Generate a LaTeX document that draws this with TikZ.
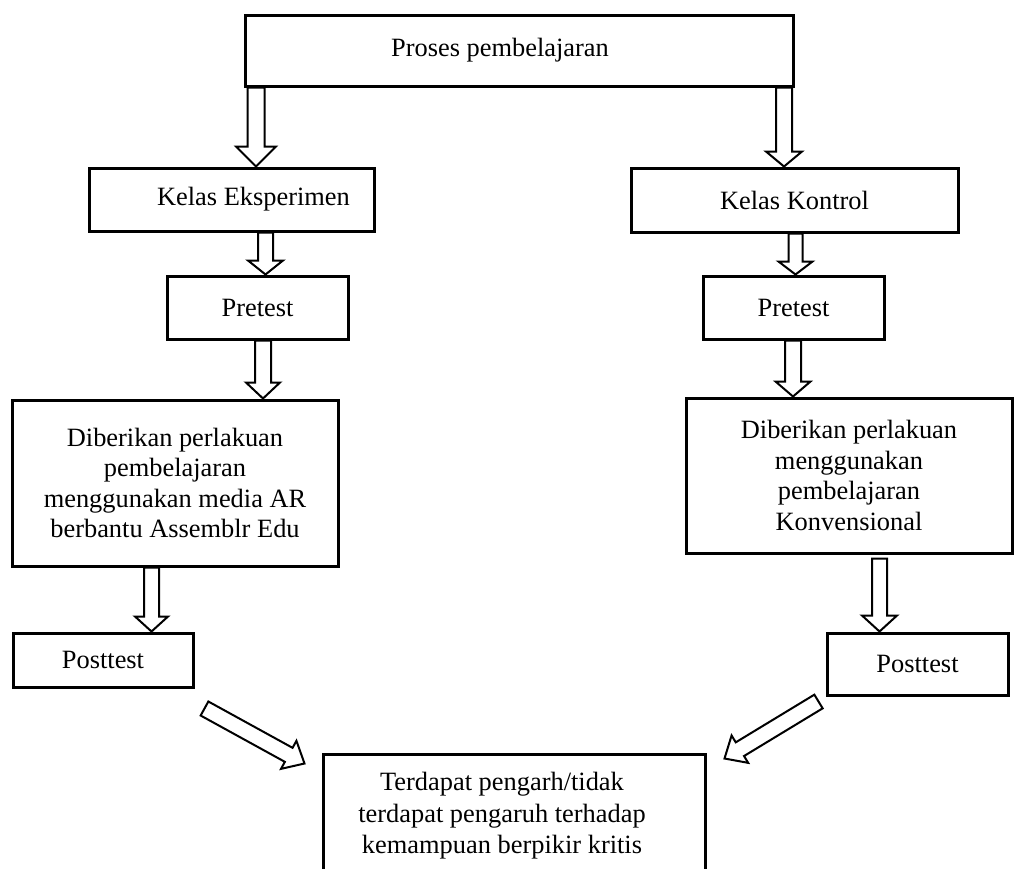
\documentclass[tikz,border=0pt]{standalone}
\usepackage{fontspec}
\setmainfont{Liberation Serif}
\usetikzlibrary{calc}
\tikzset{
  box/.style={draw, line width=3pt, rectangle, inner sep=0pt, align=center,
    font=\fontsize{26.4}{30.5}\selectfont},
  fatarrow/.style={draw, line width=2pt, line join=miter},
}
\newcommand{\blockarrow}[5]{%
  \coordinate (bahb) at ($(#2)!#5!(#1)$);
  \draw[fatarrow] ($(#1)!#3!90:(#2)$) -- ($(bahb)!#3!-90:(#1)$) -- ($(bahb)!#4!-90:(#1)$)
    -- (#2) -- ($(bahb)!#4!90:(#1)$) -- ($(bahb)!#3!90:(#1)$) -- ($(#1)!#3!-90:(#2)$) -- cycle;
}
\begin{document}
\begin{tikzpicture}[x=1pt,y=-1pt]
\useasboundingbox (0,0) rectangle (1014,868);
\fill[white] (0,0) rectangle (1014,868);
\clip (0,0) rectangle (1014,868);

\node[box, minimum width=548pt, minimum height=71pt] (top) at (519,50.5) {Proses pembelajaran\hspace*{38pt}};
\node[box, minimum width=285pt, minimum height=63pt] (ke) at (231.5,199.5) {\hspace*{44pt}Kelas Eksperimen};
\node[box, minimum width=327pt, minimum height=64pt] (kk) at (794.5,200) {Kelas Kontrol};
\node[box, minimum width=181pt, minimum height=63pt] (pl) at (257.5,307.5) {Pretest};
\node[box, minimum width=181pt, minimum height=63pt] (pr) at (793.5,307.5) {Pretest};
\node[box, minimum width=326pt, minimum height=166pt] (dl) at (175,483)
  {Diberikan perlakuan\\pembelajaran\\menggunakan media AR\\berbantu Assemblr Edu};
\node[box, minimum width=326pt, minimum height=155pt] (dr) at (849,475.5)
  {Diberikan perlakuan\\menggunakan\\pembelajaran\\Konvensional};
\node[box, minimum width=180pt, minimum height=54pt] (pol) at (103,660) {Posttest};
\node[box, minimum width=181pt, minimum height=62pt] (por) at (917.5,664) {Posttest};
\node[box, minimum width=382pt, minimum height=124pt, font=\fontsize{26.4}{31.5}\selectfont] (bot) at (514,816)
  {\begin{tabular}{@{}c@{}}Terdapat pengarh/tidak\\terdapat pengaruh terhadap\\kemampuan berpikir kritis\end{tabular}\hspace*{24pt}};

\coordinate (a1s) at ([xshift=-263pt]top.south);
\coordinate (a1e) at (a1s |- ke.north);
\blockarrow{a1s}{a1e}{8.5pt}{20pt}{20pt}
\coordinate (a2s) at ([xshift=265pt]top.south);
\coordinate (a2e) at (a2s |- kk.north);
\blockarrow{a2s}{a2e}{8pt}{18pt}{15pt}
\coordinate (a3s) at ([xshift=34pt]ke.south);
\coordinate (a3e) at (a3s |- pl.north);
\blockarrow{a3s}{a3e}{7.5pt}{17.5pt}{14pt}
\coordinate (a4s) at ([xshift=1pt]kk.south);
\coordinate (a4e) at (a4s |- pr.north);
\blockarrow{a4s}{a4e}{7pt}{17pt}{13pt}
\coordinate (a5s) at ([xshift=5.5pt]pl.south);
\coordinate (a5e) at (a5s |- dl.north);
\blockarrow{a5s}{a5e}{8pt}{17pt}{16pt}
\coordinate (a6s) at ([xshift=-0.5pt]pr.south);
\coordinate (a6e) at (a6s |- dr.north);
\blockarrow{a6s}{a6e}{8pt}{17.5pt}{15pt}
\coordinate (a7s) at ([xshift=-23.5pt]dl.south);
\coordinate (a7e) at (a7s |- pol.north);
\blockarrow{a7s}{a7e}{7.5pt}{16.5pt}{15pt}
\coordinate (a8s) at ([xshift=30.5pt,yshift=-4pt]dr.south);
\coordinate (a8e) at (a8s |- por.north);
\blockarrow{a8s}{a8e}{7.5pt}{17.5pt}{16pt}
\coordinate (a9s) at ([xshift=10pt,yshift=-20pt]pol.south east);
\coordinate (a9e) at ([xshift=-17pt,yshift=-11pt]bot.north west);
\blockarrow{a9s}{a9e}{8pt}{16pt}{18pt}
\coordinate (a10s) at ([xshift=-7pt,yshift=-5pt]por.south west);
\coordinate (a10e) at ([xshift=18pt,yshift=-6pt]bot.north east);
\blockarrow{a10s}{a10e}{8pt}{16pt}{18pt}
\end{tikzpicture}
\end{document}
